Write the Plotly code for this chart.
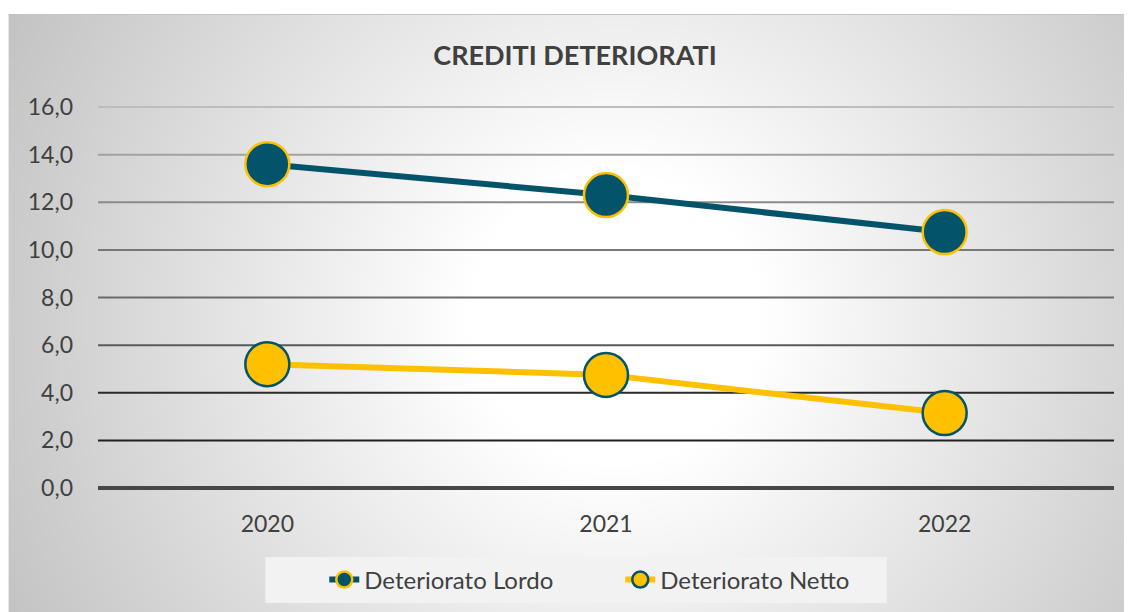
import base64, struct, zlib
import numpy as np
import plotly.graph_objects as go

# ---------------- data ----------------
years = ["2020", "2021", "2022"]
lordo = [13.6, 12.3, 10.75]
netto = [5.2, 4.75, 3.15]
y_ticks = [0, 2, 4, 6, 8, 10, 12, 14, 16]
y_tick_text = ["0,0", "2,0", "4,0", "6,0", "8,0", "10,0", "12,0", "14,0", "16,0"]
series_names = ["Deteriorato Lordo", "Deteriorato Netto"]
title_text = "CREDITI DETERIORATI"

# ---------------- styles ----------------
W, H = 1132, 612
OFF = 8  # page body margin
# target page pixel positions
PL, PR, PT, PB = 97.5, 1114.5, 107, 488
Y_MIN, Y_MAX = 0, 16
TEAL = "#03546A"
GOLD = "#FFC000"
TXT = "#404040"
FONT = "Lato"
grid_colors = ["#474747", "#202020", "#2a2a2a", "#5a5a5a", "#6a6a6a",
               "#787878", "#8a8a8a", "#a2a2a2", "#bdbdbd"]
grid_widths = [4, 2, 2, 2, 2, 2, 2, 2, 2]


def px_x(p):
    return (p - PL) / (PR - PL)


def px_y(p):
    return (PB - p) / (PB - PT)


def png_uri(arr):
    h, w, _ = arr.shape
    raw = b"".join(b"\x00" + arr[i].tobytes() for i in range(h))

    def chunk(t, d):
        c = struct.pack(">I", len(d)) + t + d
        return c + struct.pack(">I", zlib.crc32(t + d) & 0xFFFFFFFF)

    png = b"\x89PNG\r\n\x1a\n" + chunk(b"IHDR", struct.pack(">IIBBBBB", w, h, 8, 2, 0, 0, 0))
    png += chunk(b"IDAT", zlib.compress(raw, 9)) + chunk(b"IEND", b"")
    return "data:image/png;base64," + base64.b64encode(png).decode()


# radial gradient background (page coords)
BX0, BY0, BX1, BY1 = 8, 14, 1140, 620
step = 4
xs = np.arange(BX0, BX1, step) + step / 2
ys = np.arange(BY0, BY1, step) + step / 2
XX, YY = np.meshgrid(xs, ys)
r = np.sqrt((XX - 615) ** 2 + (YY - 320) ** 2)
g = 255 - 0.112 * np.maximum(0, r - 150)
g = np.clip(g, 185, 255).astype(np.uint8)
img = np.stack([g, g, g], axis=-1)
bg_uri = png_uri(img)

fig = go.Figure()

for name, vals, lc, bc in [(series_names[0], lordo, TEAL, GOLD),
                           (series_names[1], netto, GOLD, TEAL)]:
    fig.add_trace(go.Scatter(
        x=years, y=vals, name=name, mode="lines+markers",
        line=dict(color=lc, width=6),
        marker=dict(size=44, color=lc, line=dict(color=bc, width=2.5)),
        cliponaxis=False,
    ))

shapes = []
for v, c, w in zip(y_ticks, grid_colors, grid_widths):
    yp = (v - Y_MIN) / (Y_MAX - Y_MIN)
    shapes.append(dict(type="line", xref="paper", yref="paper", x0=0, x1=1, y0=yp, y1=yp,
                       line=dict(color=c, width=w), layer="below"))
shapes.append(dict(type="rect", xref="paper", yref="paper",
                   x0=px_x(265), x1=px_x(887), y0=px_y(603), y1=px_y(557),
                   fillcolor="#f2f2f2", line=dict(width=0), layer="below"))
shapes.append(dict(type="line", xref="paper", yref="paper",
                   x0=px_x(8), x1=px_x(1140), y0=px_y(14.5), y1=px_y(14.5),
                   line=dict(color="#c4c4c4", width=1), layer="below"))

fig.update_layout(
    width=W, height=H,
    margin=dict(l=PL - OFF, r=W - (PR - OFF), t=PT - OFF, b=H - (PB - OFF), pad=0),
    paper_bgcolor="white", plot_bgcolor="rgba(0,0,0,0)",
    font=dict(family=FONT, color=TXT, size=23),
    title=dict(text="<b>" + title_text + "</b>", x=(575 - OFF) / W, xanchor="center",
               y=1 - (56 - OFF) / H, yanchor="middle", yref="container",
               font=dict(family=FONT, size=27, color=TXT)),
    xaxis=dict(type="category", range=[-0.5, 2.5], showgrid=False, zeroline=False,
               showline=False, ticks="", ticklabelstandoff=20,
               tickfont=dict(size=23, color=TXT), fixedrange=True),
    yaxis=dict(range=[Y_MIN, Y_MAX], tickvals=y_ticks, ticktext=y_tick_text, showgrid=False,
               zeroline=False, showline=False, ticks="", ticklabelstandoff=24,
               tickfont=dict(size=23, color=TXT), fixedrange=True),
    showlegend=True,
    legend=dict(orientation="h", x=px_x(324), xanchor="left", y=px_y(580), yanchor="middle",
                bgcolor="rgba(0,0,0,0)", font=dict(size=24, color=TXT, family=FONT),
                entrywidth=251, entrywidthmode="pixels", itemsizing="trace"),
    shapes=shapes,
    images=[dict(source=bg_uri, xref="paper", yref="paper", x=px_x(BX0), y=px_y(BY0),
                 sizex=(BX1 - BX0) / (PR - PL), sizey=(BY1 - BY0) / (PB - PT),
                 xanchor="left", yanchor="top", sizing="stretch", layer="below")],
)

fig.write_html("out.html")
